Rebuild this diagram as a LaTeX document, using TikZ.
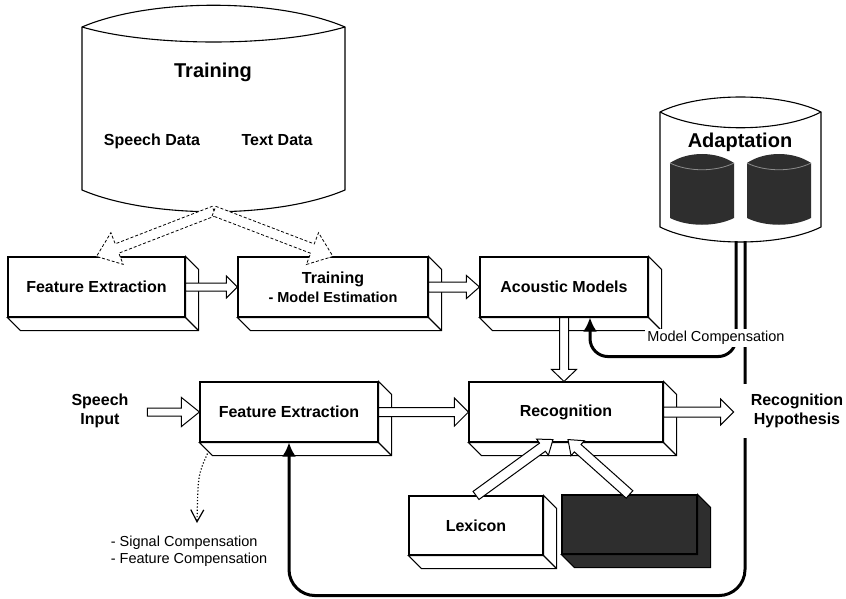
\documentclass[tikz,border=0pt]{standalone}
\usepackage{fontspec}
\setmainfont{Liberation Sans}
\usetikzlibrary{arrows.meta,calc}

\newcommand{\blockarrow}[6][]{%
  \coordinate (ha) at ($(#3)!#6!(#2)$);
  \draw[fill=white,line width=1pt,#1] ($(#2)!#4!90:(#3)$) -- ($(ha)!#4!-90:(#2)$) -- ($(ha)!#5!-90:(#2)$) -- (#3)
    -- ($(ha)!#5!90:(#2)$) -- ($(ha)!#4!90:(#2)$) -- ($(#2)!#4!-90:(#3)$) -- cycle;}

\begin{document}
\begin{tikzpicture}[x=1pt,y=-1pt,line width=1.1pt,
  box/.style={draw,fill=white,minimum width=#1,minimum height=60pt,inner sep=0pt,align=center,font=\fontsize{16}{19}\selectfont\bfseries},
  box/.default=178pt,
  lbl/.style={font=\fontsize{16}{19}\selectfont\bfseries,align=center},
  ttl/.style={font=\fontsize{20}{24}\selectfont\bfseries},
  note/.style={font=\fontsize{14.5}{17}\selectfont},
  fb/.style={line width=3pt,-{Latex[length=14pt,width=14pt]}},
  dk/.style={fill=black!82},
  dsh/.style={dash pattern=on 3pt off 2pt,line width=.8pt}]
\useasboundingbox (0,0) rectangle (846,599);
\draw[fill=white] (82,27) .. controls (150,-2) and (277,-2) .. (345,27) -- (345,190) .. controls (277,219) and (150,219) .. (82,190) -- cycle;
\draw (82,27) .. controls (150,47) and (277,47) .. (345,27);
\node[ttl] (trn) at (213,72) {Training};
\node[lbl] (sd) at (152,141) {Speech Data};
\node[lbl] (td) at (277,140) {Text Data};
\coordinate (tdb) at (214,211);
\draw[fill=white] (660,112) .. controls (700,92) and (781,92) .. (821,112) -- (821,227) .. controls (781,247) and (700,247) .. (660,227) -- cycle;
\draw (660,112) .. controls (700,133) and (781,133) .. (821,112);
\node[ttl] (adt) at (740,142) {Adaptation};
\foreach \x in {670,747}{
  \fill[dk] (\x,163) .. controls (\x+18,151) and (\x+46,151) .. (\x+64,163) -- (\x+64,218) .. controls (\x+46,227) and (\x+18,227) .. (\x,218) -- cycle;
  \draw[black!45,line width=.8pt] (\x,163) .. controls (\x+18,172) and (\x+46,172) .. (\x+64,163);
}
\coordinate (ad1) at (736,241);
\coordinate (ad2) at (745,241);
\node[box=177pt] (fe1) at (96.5,287) {Feature Extraction};
\node[box=190pt] (train) at (333,287) {Training\\\fontsize{14.5}{19}\selectfont - Model Estimation};
\node[box=168pt] (am) at (564,287) {Acoustic Models};
\node[box=178pt] (fe2) at (289,412) {Feature Extraction};
\node[box=194pt] (rec) at (566,412) {Recognition};
\node[box=134pt,minimum height=59pt] (lex) at (476,525.5) {Lexicon};
\node[box=135pt,minimum height=59pt,dk] (lm) at (629.5,524.5) {};
\foreach \b in {fe1,train,am,fe2,rec,lex}{
  \draw[fill=white] (\b.north east) -- ++(13,13) |- ($(\b.south west)+(13,13)$) -- (\b.south west) -- (\b.south east) -- cycle;
  \draw (\b.south east) -- ++(13,13);
}
\draw[dk] (lm.north east) -- ++(13,13) |- ($(lm.south west)+(13,13)$) -- (lm.south west) -- (lm.south east) -- cycle;
\node[lbl] (spi) at (100,411) {Speech\\Input};
\coordinate (spa) at ($(fe2.west)+(-52,0)$);
\coordinate (amr) at (am.south |- rec.north);
\coordinate (hyp) at ($(rec.east)+(70,0)$);
\coordinate (lxt) at ($(rec.south)+(-13,-3)$);
\coordinate (lmt) at ($(rec.south)+(2,-3)$);
\coordinate (amc) at ($(am.south)+(26,0)$);
\coordinate (sc) at (197,523);
\blockarrow[dsh]{tdb}{fe1.north}{5pt}{17pt}{22pt}
\blockarrow[dsh]{tdb}{train.north}{5pt}{17pt}{22pt}
\blockarrow{fe1.east}{train.west}{4pt}{11pt}{11pt}
\blockarrow{train.east}{am.west}{5pt}{11.5pt}{13pt}
\blockarrow{am.south}{amr}{4.5pt}{12.5pt}{12pt}
\blockarrow{spa}{fe2.west}{4pt}{14.5pt}{18pt}
\blockarrow{fe2.east}{rec.west}{4.5pt}{14pt}{14pt}
\blockarrow{rec.east}{hyp}{5pt}{13pt}{13pt}
\blockarrow{lex.north}{lxt}{5pt}{10pt}{13pt}
\blockarrow{lm.north}{lmt}{5pt}{10pt}{13pt}
\draw[dotted,line width=1.2pt,-{Straight Barb[length=12pt,width=13pt]}] ($(fe2.south west)+(8,11)$) .. controls (198,475) .. (sc);
\node[note,anchor=west,align=left] (cmp) at (107,551) {- Signal Compensation\\- Feature Compensation};
\draw[fb,rounded corners=18pt] (ad1) |- ($(amc)+(0,39)$) -- (amc);
\draw[fb,rounded corners=26pt] (ad2) |- ($(fe2.south)+(0,153)$) -- (fe2.south);
\node[note,fill=white,inner sep=2pt] (mc) at (716,338) {Model Compensation};
\node[lbl,fill=white,inner sep=10pt] (rh) at (797,411) {Recognition\\Hypothesis};
\end{tikzpicture}
\end{document}
